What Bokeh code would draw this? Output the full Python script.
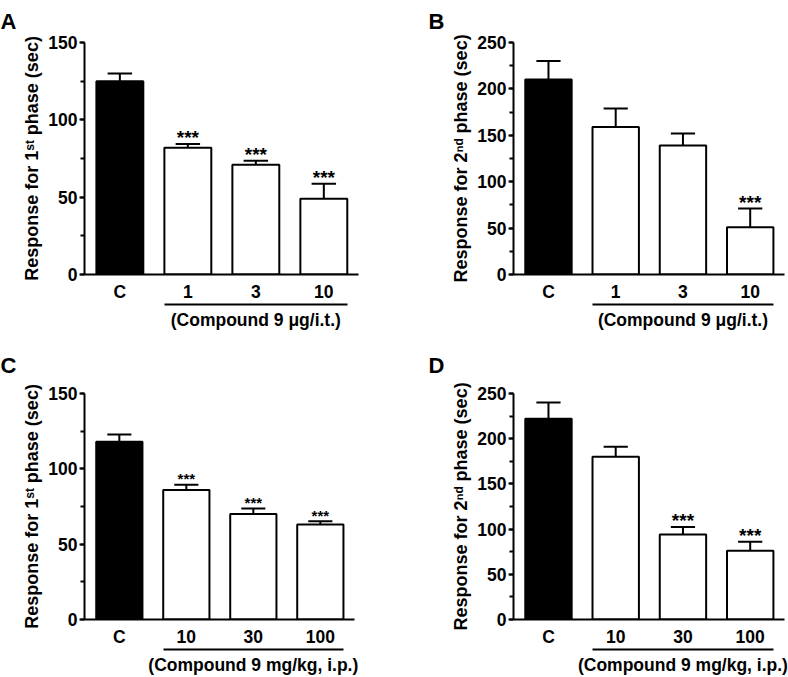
from bokeh.plotting import figure
from bokeh.layouts import column, row
from bokeh.models import (Range1d, LinearAxis, FixedTicker, SingleIntervalTicker,
                          ColumnDataSource)
from bokeh.core.properties import value
from bokeh.embed import file_html
from bokeh.resources import INLINE

# ---------------- data ----------------
groups_it = ["C", "1", "3", "10"]
groups_ip = ["C", "10", "30", "100"]

a_mean = [125, 82, 71, 49]
a_sem = [4.9, 2.4, 2.6, 9.7]
a_sig = ["", "***", "***", "***"]

b_mean = [210, 159, 139, 51]
b_sem = [20, 20, 13, 20]
b_sig = ["", "", "", "***"]

c_mean = [118, 86, 70, 63]
c_sem = [4.8, 3.5, 3.7, 2.2]
c_sig = ["", "***", "***", "***"]

d_mean = [222, 180, 94, 76]
d_sem = [18, 11, 8.4, 10]
d_sig = ["", "", "***", "***"]

ylab_1st = "Response for 1ˢᵗ phase (sec)"
ylab_2nd = "Response for 2ⁿᵈ phase (sec)"
grp_it = "(Compound 9 μg/i.t.)"
grp_ip = "(Compound 9 mg/kg, i.p.)"

FONT = "Liberation Sans"
BAR_W = 0.69
CAP = 0.18
LBL = "17.5px"


def panel(letter, labels, mean, sem, sig, ymax, ylabel, glabel,
          width, height, left, right, top, bottom, star_size,
          letter_x, letter_pad):
    n = len(labels)
    xs = list(range(n))
    hi = [m + s for m, s in zip(mean, sem)]
    src = ColumnDataSource(dict(
        x=xs, top=mean, hi=hi,
        cl=[x - CAP for x in xs], cr=[x + CAP for x in xs],
        fill=["black" if i == 0 else "white" for i in xs],
        sig=sig,
    ))
    p = figure(width=width, height=height, output_backend="svg",
               toolbar_location=None, x_range=Range1d(-0.52, 3.51),
               y_range=Range1d(0, ymax), min_border_left=left,
               min_border_right=right, min_border_top=top,
               min_border_bottom=bottom, title=letter)
    p.outline_line_color = None
    p.grid.visible = False
    p.background_fill_color = "white"
    p.border_fill_color = "white"

    p.title.align = "left"
    p.title.vertical_align = "top"
    p.title.offset = letter_x - left
    p.title.standoff = letter_pad
    p.title.text_font = FONT
    p.title.text_font_style = "bold"
    p.title.text_font_size = "22px"
    p.title.text_color = "black"

    p.vbar(x="x", top="top", width=BAR_W, bottom=0, fill_color="fill",
           line_color="black", line_width=2, source=src)
    p.segment(x0="x", y0="top", x1="x", y1="hi", line_color="black",
              line_width=2, source=src)
    p.segment(x0="cl", y0="hi", x1="cr", y1="hi", line_color="black",
              line_width=2, source=src)
    p.text(x="x", y="hi", text="sig", text_align="center",
           text_baseline="alphabetic", y_offset=-6,
           text_font=value(FONT), text_font_style="bold",
           text_font_size=f"{star_size}px", text_color="black", source=src)

    # y axis
    ya = p.yaxis[0]
    ya.ticker = SingleIntervalTicker(interval=50, num_minor_ticks=2)
    ya.axis_line_width = 2
    ya.major_tick_line_width = 2
    ya.minor_tick_line_width = 2
    ya.major_tick_out = 5
    ya.major_tick_in = 0
    ya.minor_tick_out = 4
    ya.minor_tick_in = 0
    ya.major_label_standoff = 2
    ya.major_label_text_font = FONT
    ya.major_label_text_font_style = "bold"
    ya.major_label_text_font_size = LBL
    ya.major_label_text_color = "black"
    ya.axis_label = ylabel
    ya.axis_label_text_font = FONT
    ya.axis_label_text_font_style = "bold"
    ya.axis_label_text_font_size = "18px"
    ya.axis_label_text_color = "black"
    ya.axis_label_standoff = 3

    # x axis with category labels
    xa = p.xaxis[0]
    xa.ticker = FixedTicker(ticks=xs)
    xa.major_label_overrides = {i: lab for i, lab in zip(xs, labels)}
    xa.axis_line_width = 2
    xa.major_tick_out = 0
    xa.major_tick_in = 0
    xa.minor_tick_out = 0
    xa.minor_tick_in = 0
    xa.major_label_standoff = 7
    xa.major_label_text_font = FONT
    xa.major_label_text_font_style = "bold"
    xa.major_label_text_font_size = LBL
    xa.major_label_text_color = "black"

    # group bracket as a bounded second axis
    gx = (xs[1] + xs[-1]) / 2
    ga = LinearAxis(ticker=FixedTicker(ticks=[gx]),
                    bounds=(xs[1] - BAR_W / 2, xs[-1] + BAR_W / 2))
    ga.major_label_overrides = {gx: glabel}
    ga.axis_line_width = 2
    ga.major_tick_out = 0
    ga.major_tick_in = 0
    ga.minor_tick_out = 0
    ga.minor_tick_in = 0
    ga.major_label_standoff = 5
    ga.major_label_text_font = FONT
    ga.major_label_text_font_style = "bold"
    ga.major_label_text_font_size = LBL
    ga.major_label_text_color = "black"
    p.add_layout(ga, "below")
    return p


pa = panel("A", groups_it, a_mean, a_sem, a_sig, 150, ylab_1st, grp_it,
           394, 335, 84, 36, 42, 61, 19, 0, 14)
pb = panel("B", groups_it, b_mean, b_sem, b_sig, 250, ylab_2nd, grp_it,
           394, 335, 119, 4, 42, 61, 19, 34, 14)
pc = panel("C", groups_ip, c_mean, c_sem, c_sig, 150, ylab_1st, grp_ip,
           394, 342, 84, 40, 58, 54, 15, 0, 28)
pd = panel("D", groups_ip, d_mean, d_sem, d_sig, 250, ylab_2nd, grp_ip,
           394, 342, 119, 4, 58, 54, 19, 34, 28)
layout = column(row(pa, pb), row(pc, pd))

open("out.html", "w").write(file_html(layout, INLINE))
